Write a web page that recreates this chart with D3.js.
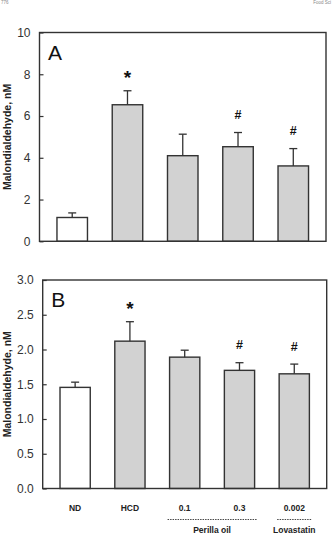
<!DOCTYPE html>
<html>
<head>
<meta charset="utf-8">
<script src="https://cdn.jsdelivr.net/npm/d3@7"></script>
<style>
  body { margin: 0; background: #fff; }
  svg { display: block; font-family: "Liberation Sans", Arial, sans-serif; }
</style>
</head>
<body>
<div id="chart"></div>
<script>
// group labels and values
let groups = ["ND", "HCD", "0.1", "0.3", "0.002"];
let fills  = ["#ffffff", "#d2d2d2", "#d2d2d2", "#d2d2d2", "#d2d2d2"];

let mdaA = [1.14, 6.54, 4.10, 4.53, 3.61];
let errA = [0.22, 0.67, 1.03, 0.68, 0.83];
let sigA = ["", "*", "", "#", "#"];
let ticksA = [0, 2, 4, 6, 8, 10];

let mdaB = [1.455, 2.12, 1.89, 1.70, 1.65];
let errB = [0.075, 0.28, 0.10, 0.11, 0.14];
let sigB = ["", "*", "", "#", "#"];
let ticksB = [0, 0.5, 1.0, 1.5, 2.0, 2.5, 3.0];

let brackets = [
  { label: "Perilla oil", from: "0.1", to: "0.3" },
  { label: "Lovastatin", from: "0.002", to: "0.002" }
];

let width = 332, height = 540;
let ink = "#333";

let svg = d3.select("#chart").append("svg")
    .attr("width", width)
    .attr("height", height);

// page header remnants at the very top (tiny, as in the scan)
svg.append("text").attr("x", 1).attr("y", 4)
    .attr("font-size", 4.5).attr("fill", "#888").text("776");
svg.append("text").attr("x", 331).attr("y", 4)
    .attr("text-anchor", "end")
    .attr("font-size", 4.5).attr("fill", "#888").text("Food Sci");

function drawPanel(p) {
  let x = d3.scaleBand().domain(groups)
      .range([p.left, p.right])
      .paddingInner(0.448).paddingOuter(0.316);
  let y = d3.scaleLinear().domain([0, p.max]).range([p.bottom, p.top]);

  let g = svg.append("g");

  // bars
  g.selectAll("rect.bar")
    .data(p.values)
    .enter().append("rect")
    .attr("class", "bar")
    .attr("x", (d, i) => x(groups[i]))
    .attr("y", d => y(d))
    .attr("width", x.bandwidth())
    .attr("height", d => p.bottom - y(d))
    .attr("fill", (d, i) => fills[i])
    .attr("stroke", ink)
    .attr("stroke-width", 1.4);

  // error bars (upper only)
  let eb = g.selectAll("g.err")
    .data(p.values)
    .enter().append("g")
    .attr("class", "err")
    .attr("stroke", ink)
    .attr("stroke-width", 1.3);
  eb.append("line")
    .attr("x1", (d, i) => x(groups[i]) + x.bandwidth() / 2)
    .attr("x2", (d, i) => x(groups[i]) + x.bandwidth() / 2)
    .attr("y1", d => y(d))
    .attr("y2", (d, i) => y(d + p.errors[i]));
  eb.append("line")
    .attr("x1", (d, i) => x(groups[i]) + x.bandwidth() / 2 - 4)
    .attr("x2", (d, i) => x(groups[i]) + x.bandwidth() / 2 + 4)
    .attr("y1", (d, i) => y(d + p.errors[i]))
    .attr("y2", (d, i) => y(d + p.errors[i]));

  // significance marks
  g.selectAll("text.sig")
    .data(p.values)
    .enter().append("text")
    .attr("class", "sig")
    .attr("x", (d, i) => x(groups[i]) + x.bandwidth() / 2)
    .attr("y", (d, i) => y(d + p.errors[i]) - 18 + (p.sig[i] === "*" ? 11 : 4.5))
    .attr("text-anchor", "middle")
    .attr("font-weight", "bold")
    .attr("font-size", (d, i) => p.sig[i] === "*" ? 19 : 12.5)
    .attr("fill", "#111")
    .text((d, i) => p.sig[i]);

  // frame
  g.append("rect")
    .attr("x", p.left).attr("y", p.top)
    .attr("width", p.right - p.left).attr("height", p.bottom - p.top)
    .attr("fill", "none")
    .attr("stroke", ink)
    .attr("stroke-width", 1.4);

  // y axis, ticks pointing inward
  let yAxis = g.append("g")
    .attr("transform", "translate(" + p.left + ",0)")
    .call(d3.axisLeft(y).tickValues(p.ticks).tickSizeInner(-4).tickSizeOuter(0)
      .tickPadding(9).tickFormat(p.fmt));
  yAxis.select(".domain").remove();
  yAxis.selectAll("line").attr("stroke", ink).attr("stroke-width", 1.2);
  yAxis.selectAll("text")
    .attr("font-size", 12)
    .attr("fill", "#333")
    .attr("font-family", "Liberation Sans, Arial, sans-serif");

  // panel letter
  g.append("text")
    .attr("x", p.left + 8.5).attr("y", p.top + 27)
    .attr("font-size", 21)
    .attr("fill", "#111")
    .text(p.letter);

  // y title
  g.append("text")
    .attr("transform", "translate(11," + ((p.top + p.bottom) / 2) + ") rotate(-90)")
    .attr("text-anchor", "middle")
    .attr("font-size", 10.5)
    .attr("font-weight", "bold")
    .attr("fill", "#222")
    .text("Malondialdehyde, nM");

  return x;
}

drawPanel({ left: 39.5, right: 326, top: 32.5, bottom: 241.3, max: 10,
  values: mdaA, errors: errA, sig: sigA, ticks: ticksA, fmt: d3.format("d"), letter: "A" });

let xB = drawPanel({ left: 42.7, right: 326.7, top: 280, bottom: 488.5, max: 3,
  values: mdaB, errors: errB, sig: sigB, ticks: ticksB, fmt: d3.format(".1f"), letter: "B" });

// category labels under panel B
svg.append("g").selectAll("text")
  .data(groups)
  .enter().append("text")
  .attr("x", d => xB(d) + xB.bandwidth() / 2)
  .attr("y", 510.5)
  .attr("text-anchor", "middle")
  .attr("font-size", 8.5)
  .attr("font-weight", "bold")
  .attr("fill", "#222")
  .text(d => d);

// treatment brackets
let br = svg.append("g").selectAll("g")
  .data(brackets)
  .enter().append("g");
br.append("line")
  .attr("x1", d => xB(d.from) - 2)
  .attr("x2", d => xB(d.to) + xB.bandwidth() + 2)
  .attr("y1", 519.5).attr("y2", 519.5)
  .attr("stroke", "#333")
  .attr("stroke-width", 0.9)
  .attr("stroke-dasharray", "1.5,1");
br.append("text")
  .attr("x", d => (xB(d.from) + xB(d.to) + xB.bandwidth()) / 2)
  .attr("y", 533)
  .attr("text-anchor", "middle")
  .attr("font-size", 8.5)
  .attr("font-weight", "bold")
  .attr("fill", "#222")
  .text(d => d.label);
</script>
</body>
</html>
